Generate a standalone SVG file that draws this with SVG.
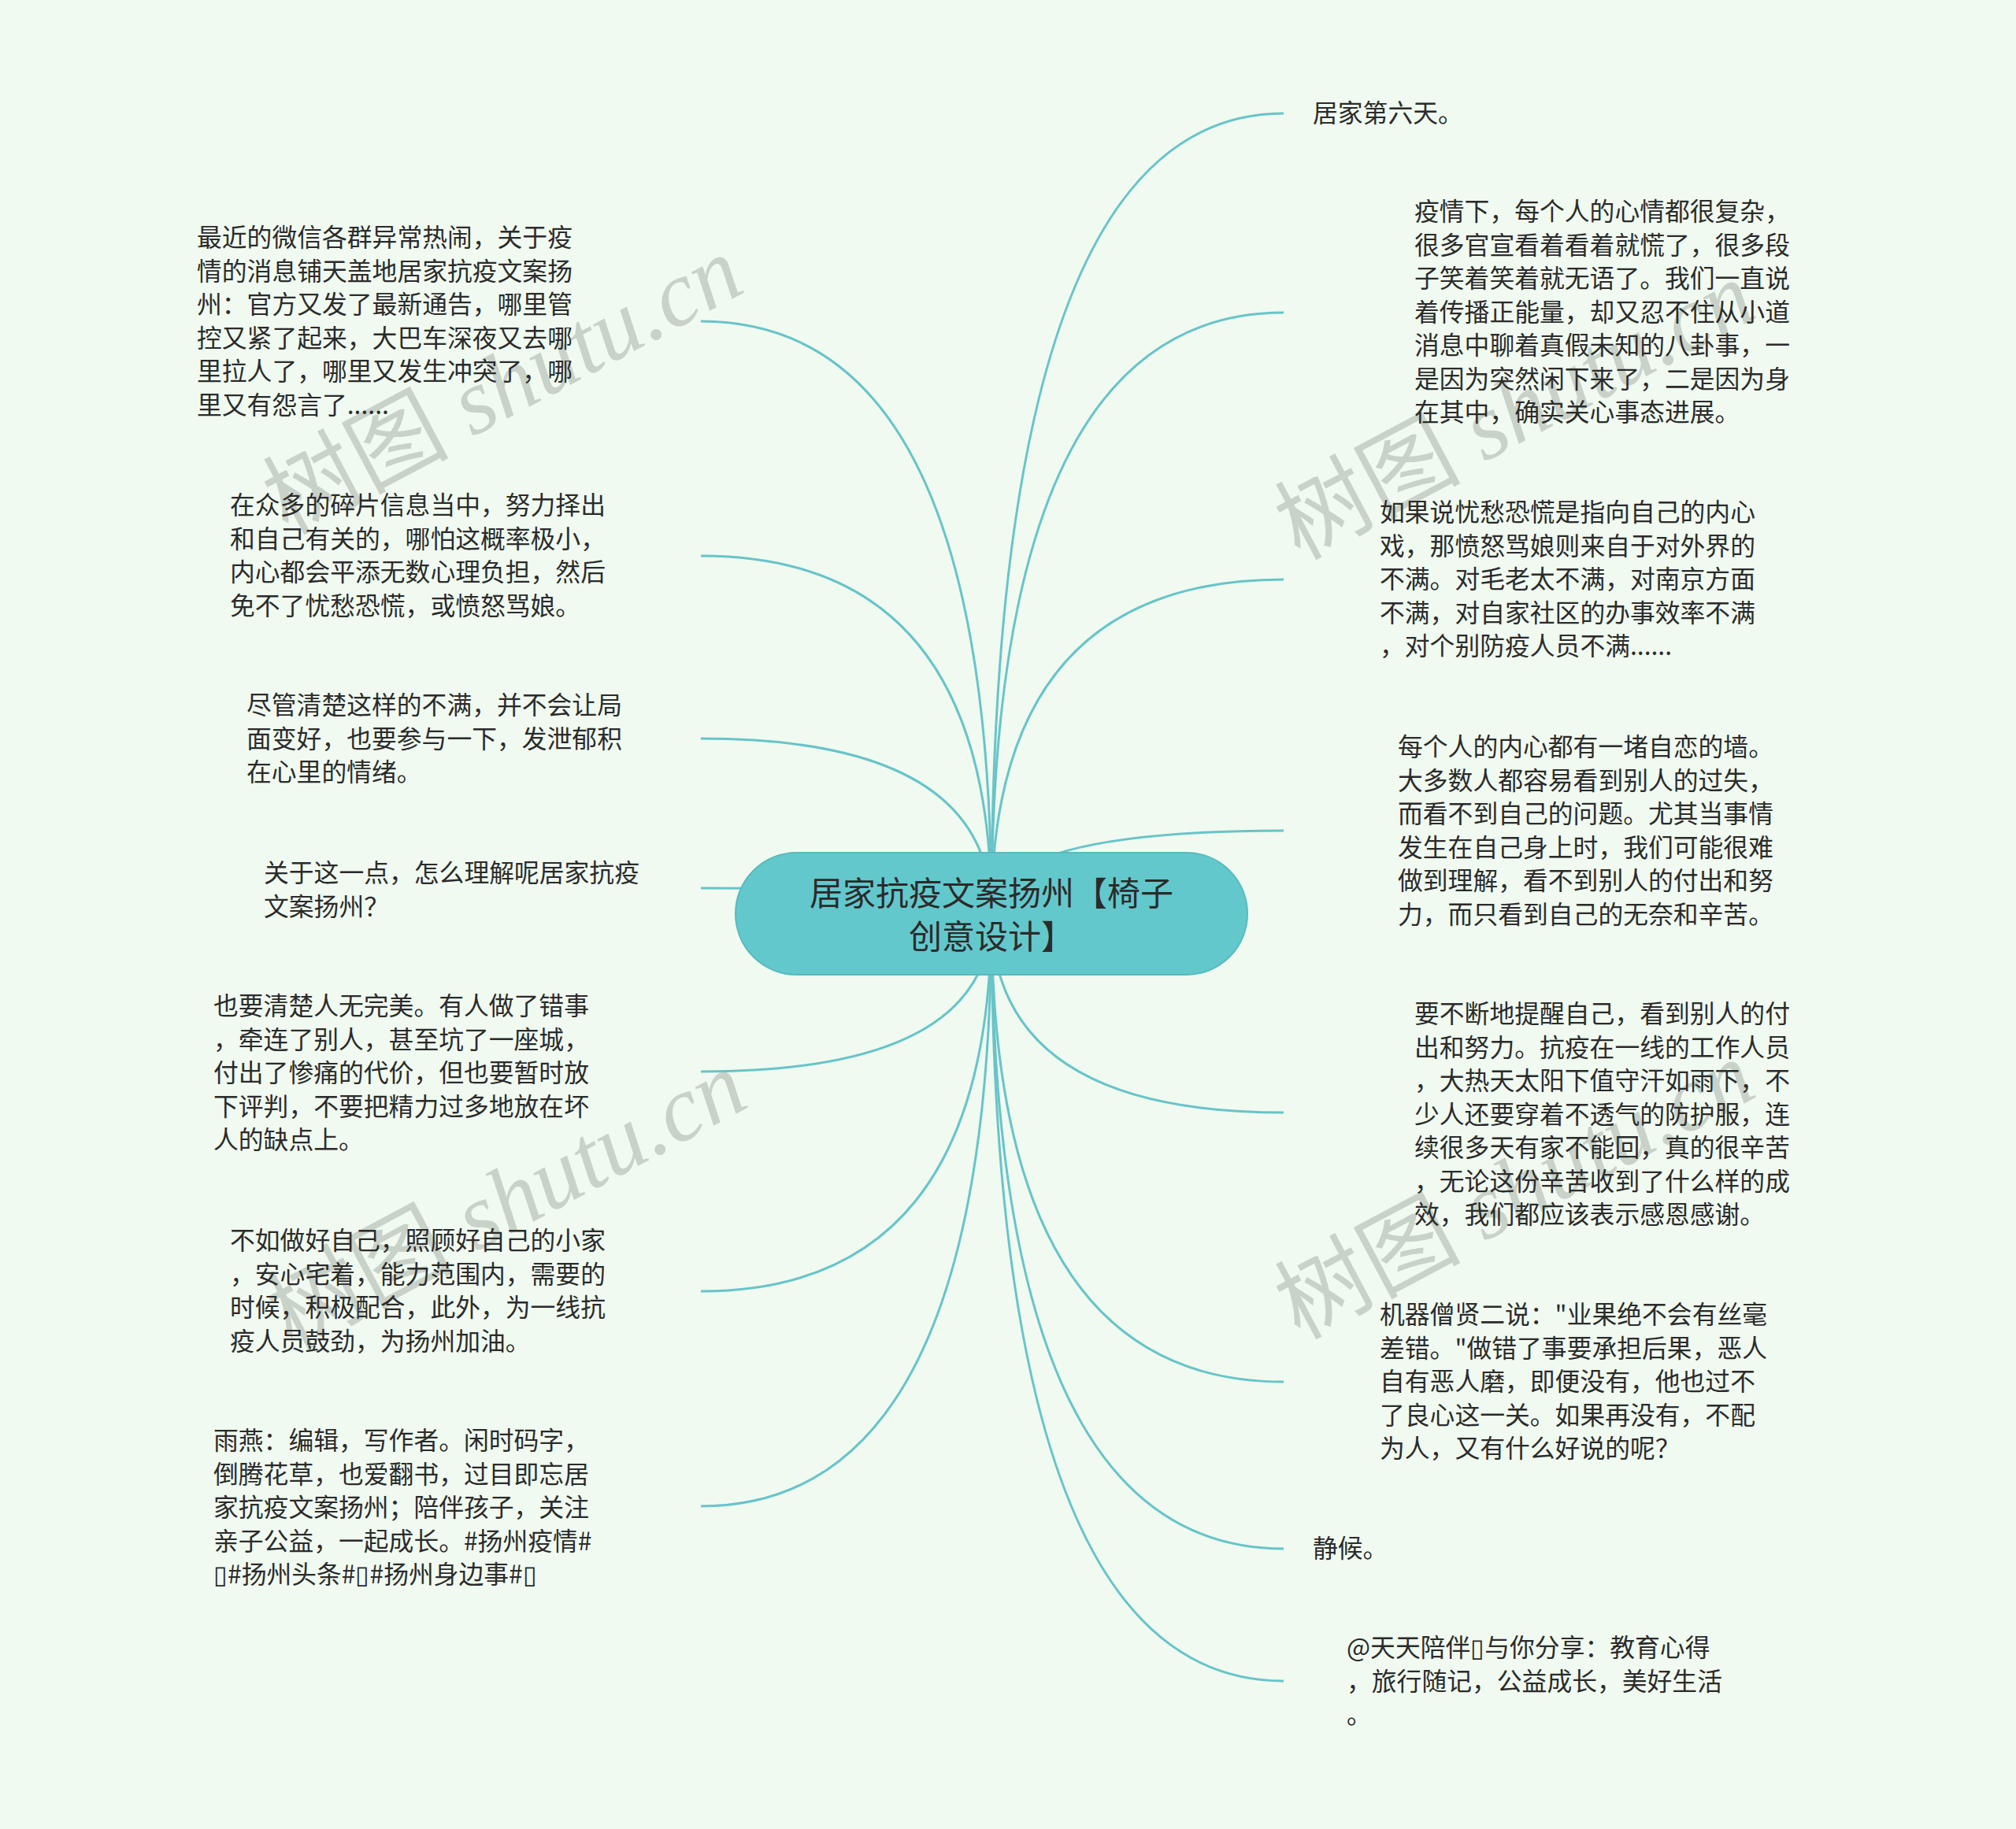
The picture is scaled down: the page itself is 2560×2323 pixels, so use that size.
<svg xmlns="http://www.w3.org/2000/svg" width="2560" height="2323" viewBox="0 0 2560 2323">
<style>
.bg{fill:#f0faf0}
.ln{fill:none;stroke:#68c4c8;stroke-width:3}
.t{font-family:"Noto Sans CJK SC","Noto Sans",sans-serif;font-size:31.8px;fill:#2b2b2b}
.ct{font-family:"Noto Sans CJK SC","Noto Sans",sans-serif;font-size:42px;fill:#2b2b2b}
.wm{font-size:118px;fill:#9aa29a;opacity:0.45}
.wc{font-family:"Noto Sans CJK SC",sans-serif}
.ws{font-family:"Liberation Serif",serif;font-style:italic}
</style>
<rect class="bg" width="2560" height="2323"/>
<g id="watermarks">
<text class="wm" transform="translate(365,680) rotate(-28)"><tspan class="wc">树图</tspan><tspan class="ws"> shutu.cn</tspan></text>
<text class="wm" transform="translate(370,1715) rotate(-28)"><tspan class="wc">树图</tspan><tspan class="ws"> shutu.cn</tspan></text>
<text class="wm" transform="translate(1650,712) rotate(-28)"><tspan class="wc">树图</tspan><tspan class="ws"> shutu.cn</tspan></text>
<text class="wm" transform="translate(1650,1702) rotate(-28)"><tspan class="wc">树图</tspan><tspan class="ws"> shutu.cn</tspan></text>
</g>
<g id="connectors">
<path class="ln" d="M1259 1160 Q1259 144 1630 144"/>
<path class="ln" d="M1259 1160 Q1259 397 1630 397"/>
<path class="ln" d="M1259 1160 Q1259 736 1630 736"/>
<path class="ln" d="M1259 1160 Q1259 1055 1630 1055"/>
<path class="ln" d="M1259 1160 Q1259 1413 1630 1413"/>
<path class="ln" d="M1259 1160 Q1259 1755 1630 1755"/>
<path class="ln" d="M1259 1160 Q1259 1967 1630 1967"/>
<path class="ln" d="M1259 1160 Q1259 2135 1630 2135"/>
<path class="ln" d="M1259 1160 Q1259 408 890 408"/>
<path class="ln" d="M1259 1160 Q1259 706 890 706"/>
<path class="ln" d="M1259 1160 Q1259 938 890 938"/>
<path class="ln" d="M1259 1160 Q1259 1128 890 1128"/>
<path class="ln" d="M1259 1160 Q1259 1361 890 1361"/>
<path class="ln" d="M1259 1160 Q1259 1640 890 1640"/>
<path class="ln" d="M1259 1160 Q1259 1913 890 1913"/>
</g>
<g id="center">
<rect x="934" y="1083" width="650" height="155" rx="77.5" fill="#63c8cc" stroke="#57babe" stroke-width="2"/>
<text class="ct" text-anchor="middle"><tspan x="1259" y="1150">居家抗疫文案扬州【椅子</tspan><tspan x="1259" y="1205">创意设计】</tspan></text>
</g>
<g id="r1"><text class="t" x="1667" y="155">居家第六天。</text></g>
<g id="r2"><text class="t"><tspan x="1796" y="280">疫情下，每个人的心情都很复杂，</tspan><tspan x="1796" dy="42.5">很多官宣看着看着就慌了，很多段</tspan><tspan x="1796" dy="42.5">子笑着笑着就无语了。我们一直说</tspan><tspan x="1796" dy="42.5">着传播正能量，却又忍不住从小道</tspan><tspan x="1796" dy="42.5">消息中聊着真假未知的八卦事，一</tspan><tspan x="1796" dy="42.5">是因为突然闲下来了，二是因为身</tspan><tspan x="1796" dy="42.5">在其中，确实关心事态进展。</tspan></text></g>
<g id="r3"><text class="t"><tspan x="1752" y="662">如果说忧愁恐慌是指向自己的内心</tspan><tspan x="1752" dy="42.5">戏，那愤怒骂娘则来自于对外界的</tspan><tspan x="1752" dy="42.5">不满。对毛老太不满，对南京方面</tspan><tspan x="1752" dy="42.5">不满，对自家社区的办事效率不满</tspan><tspan x="1752" dy="42.5">，对个别防疫人员不满......</tspan></text></g>
<g id="r4"><text class="t"><tspan x="1775" y="960">每个人的内心都有一堵自恋的墙。</tspan><tspan x="1775" dy="42.5">大多数人都容易看到别人的过失，</tspan><tspan x="1775" dy="42.5">而看不到自己的问题。尤其当事情</tspan><tspan x="1775" dy="42.5">发生在自己身上时，我们可能很难</tspan><tspan x="1775" dy="42.5">做到理解，看不到别人的付出和努</tspan><tspan x="1775" dy="42.5">力，而只看到自己的无奈和辛苦。</tspan></text></g>
<g id="r5"><text class="t"><tspan x="1796" y="1299">要不断地提醒自己，看到别人的付</tspan><tspan x="1796" dy="42.5">出和努力。抗疫在一线的工作人员</tspan><tspan x="1796" dy="42.5">，大热天太阳下值守汗如雨下，不</tspan><tspan x="1796" dy="42.5">少人还要穿着不透气的防护服，连</tspan><tspan x="1796" dy="42.5">续很多天有家不能回，真的很辛苦</tspan><tspan x="1796" dy="42.5">，无论这份辛苦收到了什么样的成</tspan><tspan x="1796" dy="42.5">效，我们都应该表示感恩感谢。</tspan></text></g>
<g id="r6"><text class="t"><tspan x="1752" y="1681">机器僧贤二说："业果绝不会有丝毫</tspan><tspan x="1752" dy="42.5">差错。"做错了事要承担后果，恶人</tspan><tspan x="1752" dy="42.5">自有恶人磨，即便没有，他也过不</tspan><tspan x="1752" dy="42.5">了良心这一关。如果再没有，不配</tspan><tspan x="1752" dy="42.5">为人，又有什么好说的呢？</tspan></text></g>
<g id="r7"><text class="t" x="1667" y="1978">静候。</text></g>
<g id="r8"><text class="t"><tspan x="1710" y="2104">@天天陪伴▯与你分享：教育心得</tspan><tspan x="1710" dy="42.5">，旅行随记，公益成长，美好生活</tspan><tspan x="1710" dy="42.5">。</tspan></text></g>
<g id="l1"><text class="t"><tspan x="250" y="313">最近的微信各群异常热闹，关于疫</tspan><tspan x="250" dy="42.5">情的消息铺天盖地居家抗疫文案扬</tspan><tspan x="250" dy="42.5">州：官方又发了最新通告，哪里管</tspan><tspan x="250" dy="42.5">控又紧了起来，大巴车深夜又去哪</tspan><tspan x="250" dy="42.5">里拉人了，哪里又发生冲突了，哪</tspan><tspan x="250" dy="42.5">里又有怨言了......</tspan></text></g>
<g id="l2"><text class="t"><tspan x="292" y="653">在众多的碎片信息当中，努力择出</tspan><tspan x="292" dy="42.5">和自己有关的，哪怕这概率极小，</tspan><tspan x="292" dy="42.5">内心都会平添无数心理负担，然后</tspan><tspan x="292" dy="42.5">免不了忧愁恐慌，或愤怒骂娘。</tspan></text></g>
<g id="l3"><text class="t"><tspan x="313" y="907">尽管清楚这样的不满，并不会让局</tspan><tspan x="313" dy="42.5">面变好，也要参与一下，发泄郁积</tspan><tspan x="313" dy="42.5">在心里的情绪。</tspan></text></g>
<g id="l4"><text class="t"><tspan x="335" y="1120">关于这一点，怎么理解呢居家抗疫</tspan><tspan x="335" dy="42.5">文案扬州？</tspan></text></g>
<g id="l5"><text class="t"><tspan x="271" y="1289">也要清楚人无完美。有人做了错事</tspan><tspan x="271" dy="42.5">，牵连了别人，甚至坑了一座城，</tspan><tspan x="271" dy="42.5">付出了惨痛的代价，但也要暂时放</tspan><tspan x="271" dy="42.5">下评判，不要把精力过多地放在坏</tspan><tspan x="271" dy="42.5">人的缺点上。</tspan></text></g>
<g id="l6"><text class="t"><tspan x="292" y="1587">不如做好自己，照顾好自己的小家</tspan><tspan x="292" dy="42.5">，安心宅着，能力范围内，需要的</tspan><tspan x="292" dy="42.5">时候，积极配合，此外，为一线抗</tspan><tspan x="292" dy="42.5">疫人员鼓劲，为扬州加油。</tspan></text></g>
<g id="l7"><text class="t"><tspan x="271" y="1841">雨燕：编辑，写作者。闲时码字，</tspan><tspan x="271" dy="42.5">倒腾花草，也爱翻书，过目即忘居</tspan><tspan x="271" dy="42.5">家抗疫文案扬州；陪伴孩子，关注</tspan><tspan x="271" dy="42.5">亲子公益，一起成长。#扬州疫情#</tspan><tspan x="271" dy="42.5">▯#扬州头条#▯#扬州身边事#▯</tspan></text></g>
</svg>
